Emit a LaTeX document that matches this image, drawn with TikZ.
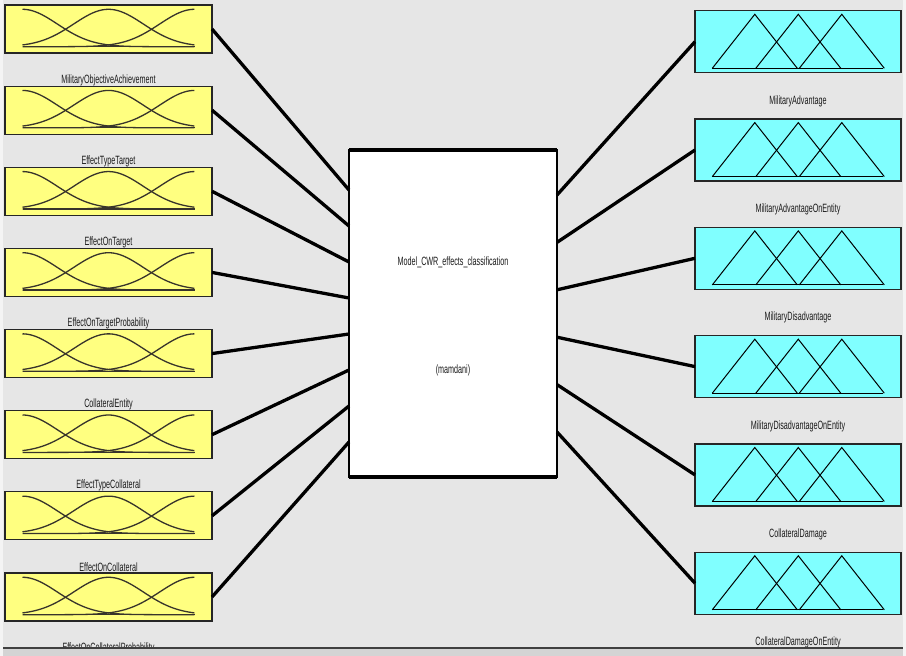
\documentclass[tikz,border=0pt]{standalone}
\usepackage{fontspec}
\usepackage{graphicx}
\setmainfont{Liberation Sans}
\usetikzlibrary{calc}
\definecolor{bg}{HTML}{E6E6E6}
\definecolor{yel}{HTML}{FFFF80}
\definecolor{cya}{HTML}{80FFFF}
\definecolor{txt}{HTML}{1A1A1A}
\newcommand{\narrowtxt}[1]{\scalebox{0.6}[1]{#1}}
\begin{document}
\begin{tikzpicture}[x=1pt,y=-1pt,
  lbox/.style={draw=black!85, line width=1.2pt, fill=yel, minimum width=207pt, minimum height=48pt, inner sep=0pt, outer sep=0pt},
  rbox/.style={draw=black!85, line width=1.2pt, fill=cya, minimum width=206pt, minimum height=62pt, inner sep=0pt, outer sep=0pt},
  cbox/.style={draw=black, line width=2pt, fill=white, minimum width=208pt, minimum height=327pt, inner sep=0pt, outer sep=0pt},
  lbl/.style={font=\fontsize{12}{13}\selectfont, text=txt, inner sep=0pt},
  conn/.style={line width=3.3pt, black},
  mf/.style={line width=1.3pt, black!80!olive},
  tri/.style={line width=1pt, black}]
\useasboundingbox (0,0) rectangle (906,656);
\fill[bg] (0,0) rectangle (906,656);
\fill[white!55!bg] (0,0) rectangle (3,656);
\fill[white!55!bg] (903,0) rectangle (906,656);

% central box
\node[cbox] (C) at (453,313.5) {};
\draw[line width=4pt] (C.north west) -- (C.north east);
\draw[line width=4pt] (C.south west) -- (C.south east);
\node[lbl] (ct1) at (453,262) {\narrowtxt{Model\_CWR\_effects\_classification}};
\node[lbl] (ct2) at (453,370) {\narrowtxt{(mamdani)}};

% left input boxes
\foreach \i/\name in {0/MilitaryObjectiveAchievement,1/EffectTypeTarget,2/EffectOnTarget,3/EffectOnTargetProbability,4/CollateralEntity,5/EffectTypeCollateral,6/EffectOnCollateral,7/EffectOnCollateralProbability}{
  \pgfmathsetmacro\T{5+81.14*\i}
  \node[lbox] (L\i) at (108.5,\T+24) {};
  \draw[mf] (22.5,\T+41.7) -- (194.5,\T+41.7);
  \draw[mf] plot[domain=0:1,samples=70,smooth] ({22.5+172*\x},{\T+41.7-37.4*exp(-((\x)*(\x))/0.082)});
  \draw[mf] plot[domain=0:1,samples=70,smooth] ({22.5+172*\x},{\T+41.7-37.4*exp(-((\x-0.5)*(\x-0.5))/0.082)});
  \draw[mf] plot[domain=0:1,samples=70,smooth] ({22.5+172*\x},{\T+41.7-37.4*exp(-((\x-1)*(\x-1))/0.082)});
  \node[lbl] (LL\i) at (108.5,\T+75) {\narrowtxt{\name}};
  \coordinate (cl\i) at ($(C.north west)+(0,40+36*\i)$);
  \draw[conn] (L\i.east) -- (cl\i);
}

% right output boxes
\foreach \j/\name in {0/MilitaryAdvantage,1/MilitaryAdvantageOnEntity,2/MilitaryDisadvantage,3/MilitaryDisadvantageOnEntity,4/CollateralDamage,5/CollateralDamageOnEntity}{
  \pgfmathsetmacro\T{10.7+108.3*\j}
  \node[rbox] (R\j) at (798,\T+31) {};
  \draw[tri] (712.3,\T+57.6) -- (883.3,\T+57.6);
  \foreach \k in {0,1,2}{
    \pgfmathsetmacro\lx{712.3+43.5*\k}
    \draw[tri] (\lx,\T+57.6) -- (\lx+42.5,\T+3.6) -- (\lx+85,\T+57.6);
  }
  \node[lbl] (RL\j) at (798,\T+90.4) {\narrowtxt{\name}};
  \coordinate (cr\j) at ($(C.north east)+(0,45+47.4*\j)$);
  \draw[conn] (cr\j) -- (R\j.west);
}

% bottom strip
\fill[black!17] (3,648) rectangle (903,656);
\draw[black!75, line width=1.2pt] (3,648) -- (903,648);
\end{tikzpicture}
\end{document}
